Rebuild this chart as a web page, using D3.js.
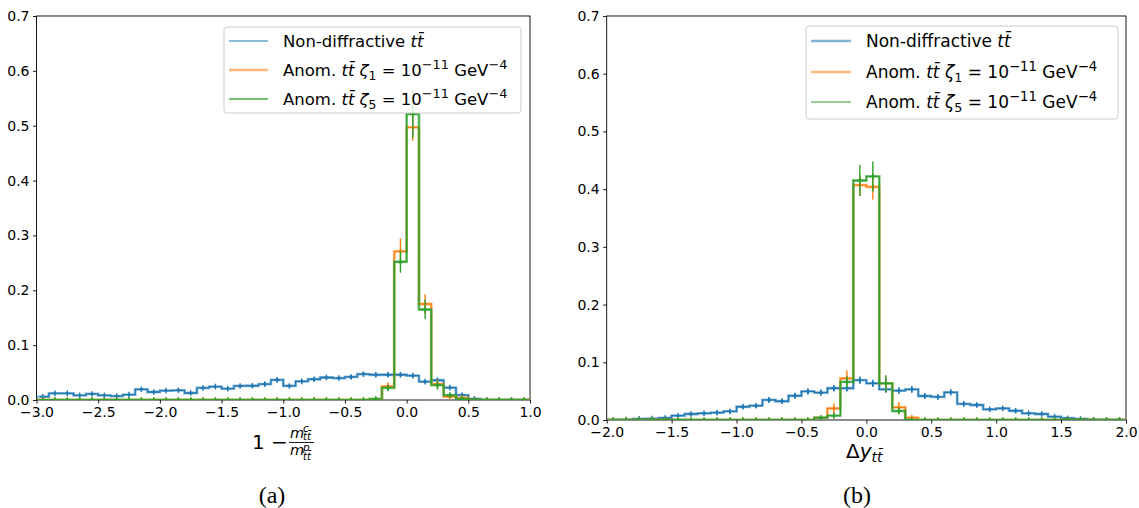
<!DOCTYPE html>
<html><head><meta charset="utf-8">
<script src="https://cdn.jsdelivr.net/npm/d3@7"></script>
<style>body{margin:0;background:#fff;} svg{display:block;font-family:"DejaVu Sans",sans-serif;}</style>
</head><body><svg id="c" width="1139" height="508"></svg>
<script>
// ---------- DATA ----------
const leftEdges = [-3.0,-2.9,-2.8,-2.7,-2.6,-2.5,-2.4,-2.3,-2.2,-2.1,-2.0,-1.9,-1.8,-1.7,-1.6,-1.5,-1.4,-1.3,-1.2,-1.1,-1.0,-0.9,-0.8,-0.7,-0.6,-0.5,-0.4,-0.3,-0.2,-0.1,0.0,0.1,0.2,0.3,0.4,0.5,0.6,0.7,0.8,0.9,1.0];
const leftNonDiff = [0.006,0.012,0.012,0.0085,0.011,0.0085,0.007,0.0098,0.0195,0.0146,0.017,0.0177,0.0128,0.022,0.0244,0.0207,0.0256,0.026,0.029,0.0366,0.0256,0.034,0.0378,0.041,0.040,0.042,0.047,0.046,0.046,0.046,0.0445,0.0335,0.036,0.0226,0.009,0.002,0,0,0,0];
const leftNonDiffErr = [0.0015,0.002,0.002,0.0017,0.002,0.0017,0.0016,0.0019,0.0026,0.0023,0.0024,0.0025,0.0021,0.0028,0.0029,0.0027,0.003,0.003,0.0032,0.0036,0.003,0.0034,0.0036,0.0038,0.0038,0.0038,0.0041,0.004,0.004,0.004,0.004,0.0034,0.0036,0.0028,0.0018,0.0009,0,0,0,0];
const leftZeta1 = [0,0,0,0,0,0,0,0,0,0,0,0,0,0,0,0,0,0,0,0,0,0,0,0,0,0,0,0.001,0.025,0.271,0.497,0.175,0.029,0.006,0.004,0,0,0,0,0];
const leftZeta1Err = [0,0,0,0,0,0,0,0,0,0,0,0,0,0,0,0,0,0,0,0,0,0,0,0,0,0,0,0.002,0.007,0.024,0.024,0.018,0.008,0.004,0.003,0,0,0,0,0];
const leftZeta5 = [0,0,0,0,0,0,0,0,0,0,0,0,0,0,0,0,0,0,0,0,0,0,0,0,0,0,0,0.002,0.022,0.252,0.521,0.165,0.027,0.009,0.002,0,0,0,0,0];
const leftZeta5Err = [0,0,0,0,0,0,0,0,0,0,0,0,0,0,0,0,0,0,0,0,0,0,0,0,0,0,0,0.002,0.006,0.02,0.043,0.018,0.008,0.004,0.002,0,0,0,0,0];

const rightEdges = [-2.0,-1.9,-1.8,-1.7,-1.6,-1.5,-1.4,-1.3,-1.2,-1.1,-1.0,-0.9,-0.8,-0.7,-0.6,-0.5,-0.4,-0.3,-0.2,-0.1,0.0,0.1,0.2,0.3,0.4,0.5,0.6,0.7,0.8,0.9,1.0,1.1,1.2,1.3,1.4,1.5,1.6,1.7,1.8,1.9,2.0];
const rightNonDiff = [0,0.0006,0.002,0.0025,0.0035,0.0075,0.0104,0.0116,0.0127,0.015,0.023,0.0248,0.0347,0.0325,0.042,0.0495,0.0475,0.055,0.055,0.069,0.0635,0.053,0.051,0.053,0.0416,0.040,0.048,0.028,0.026,0.0185,0.020,0.016,0.0116,0.0104,0.0058,0.003,0.0017,0.0006,0,0];
const rightNonDiffErr = [0,0.0006,0.0012,0.0013,0.0015,0.0022,0.0026,0.0028,0.0029,0.0031,0.0038,0.004,0.0047,0.0045,0.005,0.0055,0.0054,0.0058,0.0058,0.0065,0.0062,0.0057,0.0056,0.0057,0.005,0.005,0.0054,0.0042,0.004,0.0034,0.0035,0.0031,0.0027,0.0025,0.0019,0.0014,0.001,0.0006,0,0];
const rightZeta1 = [0,0,0,0,0,0,0,0,0,0,0,0,0,0,0,0,0.004,0.020,0.072,0.407,0.404,0.0635,0.022,0.004,0,0,0,0,0,0,0,0,0,0,0,0,0,0,0,0];
const rightZeta1Err = [0,0,0,0,0,0,0,0,0,0,0,0,0,0,0,0,0.003,0.009,0.014,0.019,0.022,0.012,0.009,0.003,0,0,0,0,0,0,0,0,0,0,0,0,0,0,0,0];
const rightZeta5 = [0,0,0,0,0,0,0,0,0,0,0,0,0,0,0,0,0.004,0.0075,0.066,0.415,0.422,0.0635,0.0156,0,0,0,0,0,0,0,0,0,0,0,0,0,0,0,0,0];
const rightZeta5Err = [0,0,0,0,0,0,0,0,0,0,0,0,0,0,0,0,0.003,0.005,0.01,0.027,0.026,0.014,0.006,0,0,0,0,0,0,0,0,0,0,0,0,0,0,0,0,0];

const yTicks = [0.0,0.1,0.2,0.3,0.4,0.5,0.6,0.7];
const leftXTicks = [-3.0,-2.5,-2.0,-1.5,-1.0,-0.5,0.0,0.5,1.0];
const rightXTicks = [-2.0,-1.5,-1.0,-0.5,0.0,0.5,1.0,1.5,2.0];

const seriesNames = ["Non-diffractive", "Anom. ζ1", "Anom. ζ5"];

// ---------- DRAWING ----------
const svg = d3.select("#c");
const defs = svg.append("defs");
const COL = {blue:"#1f77b4", orange:"#ff7f0e", green:"#2ca02c"};
const fmt = d3.format(".1f");

function mathText(sel, parts, fs){
  let cur = 0;
  parts.forEach(p=>{
    let target = 0, size = fs;
    if (p.sub){ target = 0.22*fs; size = fs*0.75; }
    if (p.sup){ target = -0.42*fs; size = fs*0.78; }
    const ts = sel.append("tspan").text(p.t).attr("font-size", size);
    if (target !== cur) ts.attr("dy", target - cur);
    if (p.it) ts.attr("font-style","italic");
    cur = target;
  });
}

const tt = {t:"tt\u0304", it:true};
const legendParts = [
  [{t:"Non-diffractive "}, tt],
  [{t:"Anom. "}, tt, {t:" "}, {t:"ζ",it:true}, {t:"1",sub:true}, {t:" = 10"}, {t:"−11",sup:true}, {t:" GeV"}, {t:"−4",sup:true}],
  [{t:"Anom. "}, tt, {t:" "}, {t:"ζ",it:true}, {t:"5",sub:true}, {t:" = 10"}, {t:"−11",sup:true}, {t:" GeV"}, {t:"−4",sup:true}]
];

function drawSeries(g, x, y, edges, vals, errs, color){
  const pts = [[edges[0],0]];
  vals.forEach((v,i)=>{ pts.push([edges[i],v]); pts.push([edges[i+1],v]); });
  pts.push([edges[edges.length-1],0]);
  g.append("path").attr("d", d3.line().x(d=>x(d[0])).y(d=>y(d[1]))(pts))
    .attr("fill","none").attr("stroke",color).attr("stroke-width",2.8).attr("stroke-opacity",0.5);
  const centers = vals.map((v,i)=>(edges[i]+edges[i+1])/2);
  g.append("path").attr("d", d3.line().curve(d3.curveStep).x((d,i)=>x(centers[i])).y(d=>y(d))(vals))
    .attr("fill","none").attr("stroke",color).attr("stroke-width",1.3);
  const eb = g.append("g").attr("stroke",color).attr("stroke-width",1.4);
  vals.forEach((v,i)=>{
    const cx = x(centers[i]), cy = y(v);
    eb.append("line").attr("x1",cx).attr("x2",cx).attr("y1",y(v-errs[i])).attr("y2",y(v+errs[i]));
    eb.append("line").attr("x1",cx).attr("x2",cx).attr("y1",cy-2.8).attr("y2",cy+2.8);
    eb.append("line").attr("x1",cx-2.8).attr("x2",cx+2.8).attr("y1",cy).attr("y2",cy);
  });
}

function panel(cfg){
  const x = d3.scaleLinear().domain(cfg.xDomain).range([cfg.x0,cfg.x1]);
  const y = d3.scaleLinear().domain([0,0.7]).range([cfg.y1,cfg.y0]);
  const clipId = "clip"+cfg.id;
  defs.append("clipPath").attr("id",clipId).append("rect")
    .attr("x",cfg.x0).attr("y",cfg.y0).attr("width",cfg.x1-cfg.x0).attr("height",cfg.y1-cfg.y0);

  const ax = svg.append("g");
  const xa = ax.append("g").attr("transform",`translate(0,${cfg.y1})`)
    .call(d3.axisBottom(x).tickValues(cfg.xTicks).tickFormat(fmt).tickSize(3.5).tickPadding(3.5).tickSizeOuter(0));
  const ya = ax.append("g").attr("transform",`translate(${cfg.x0},0)`)
    .call(d3.axisLeft(y).tickValues(yTicks).tickFormat(fmt).tickSize(3.5).tickPadding(3.5).tickSizeOuter(0));
  [xa,ya].forEach(a=>{
    a.attr("font-family",null).attr("font-size",null);
    a.select(".domain").remove();
    a.selectAll("text").attr("font-size",cfg.tickFs).attr("fill","#000").attr("font-family","DejaVu Sans");
    a.selectAll("line").attr("stroke","#000").attr("stroke-width",0.9);
  });
  ax.append("rect").attr("x",cfg.x0).attr("y",cfg.y0).attr("width",cfg.x1-cfg.x0).attr("height",cfg.y1-cfg.y0)
    .attr("fill","none").attr("stroke","#000").attr("stroke-width",0.9);

  const data = svg.append("g").attr("clip-path",`url(#${clipId})`);
  drawSeries(data, x, y, cfg.edges, cfg.s[0], cfg.e[0], COL.blue);
  drawSeries(data, x, y, cfg.edges, cfg.s[1], cfg.e[1], COL.orange);
  drawSeries(data, x, y, cfg.edges, cfg.s[2], cfg.e[2], COL.green);

  const L = cfg.legend;
  const lg = svg.append("g");
  lg.append("rect").attr("x",L.x).attr("y",L.y).attr("width",L.w).attr("height",L.h).attr("rx",3)
    .attr("fill","#fff").attr("fill-opacity",0.8).attr("stroke","#cccccc").attr("stroke-width",1);
  const cols = [COL.blue, COL.orange, COL.green];
  seriesNames.forEach((nm,i)=>{
    const ry = L.rows[i];
    const st = L.lineStyles[i];
    lg.append("line").attr("x1",L.lx0).attr("x2",L.lx1).attr("y1",ry).attr("y2",ry)
      .attr("stroke",cols[i]).attr("stroke-width",st[0]).attr("stroke-opacity",st[1]);
    const t = lg.append("text").attr("x",L.tx).attr("y",ry+0.36*L.fs).attr("font-size",L.fs).attr("fill","#000");
    mathText(t, legendParts[i], L.fs);
  });
  return {x,y};
}

panel({id:"L", x0:36.5, x1:530, y0:16, y1:400, xDomain:[-3,1], xTicks:leftXTicks, tickFs:14,
  edges:leftEdges, s:[leftNonDiff,leftZeta1,leftZeta5], e:[leftNonDiffErr,leftZeta1Err,leftZeta5Err],
  legend:{x:224, y:27, w:297, h:86, fs:16.5, rows:[41,70,99], lx0:229, lx1:268, tx:283,
    lineStyles:[[1.2,1],[2.4,0.55],[1.6,0.9]]}});

panel({id:"R", x0:606.7, x1:1126, y0:16, y1:420, xDomain:[-2,2], xTicks:rightXTicks, tickFs:14,
  edges:rightEdges, s:[rightNonDiff,rightZeta1,rightZeta5], e:[rightNonDiffErr,rightZeta1Err,rightZeta5Err],
  legend:{x:806, y:26, w:312, h:93, fs:17, rows:[41,72,102], lx0:811, lx1:851, tx:866,
    lineStyles:[[2.4,0.55],[2.4,0.55],[1.2,1]]}});

// x-axis labels
const lab = svg.append("g").attr("fill","#000");
lab.append("text").attr("x",252).attr("y",449).attr("font-size",20).text("1 −");
lab.append("text").attr("x",290).attr("y",438).attr("font-size",14.5).attr("font-style","italic").text("m");
lab.append("text").attr("x",303).attr("y",431.5).attr("font-size",10.5).attr("font-style","italic").text("c");
lab.append("text").attr("x",303).attr("y",440).attr("font-size",10).attr("font-style","italic").text("tt\u0304");
lab.append("line").attr("x1",289).attr("x2",314).attr("y1",442.5).attr("y2",442.5).attr("stroke","#000").attr("stroke-width",0.9);
lab.append("text").attr("x",290).attr("y",455).attr("font-size",14.5).attr("font-style","italic").text("m");
lab.append("text").attr("x",303).attr("y",450.5).attr("font-size",10.5).attr("font-style","italic").text("p");
lab.append("text").attr("x",303).attr("y",460).attr("font-size",10).attr("font-style","italic").text("tt\u0304");

const rl = lab.append("text").attr("x",846).attr("y",458).attr("font-size",20);
rl.append("tspan").text("Δ");
rl.append("tspan").attr("font-style","italic").text("y");
rl.append("tspan").attr("font-style","italic").attr("font-size",14).attr("dy",4).text("tt\u0304");

lab.append("text").attr("x",272).attr("y",503).attr("font-size",24).attr("text-anchor","middle").attr("font-family","Liberation Serif").text("(a)");
lab.append("text").attr("x",857).attr("y",503).attr("font-size",24).attr("text-anchor","middle").attr("font-family","Liberation Serif").text("(b)");
</script></body></html>
